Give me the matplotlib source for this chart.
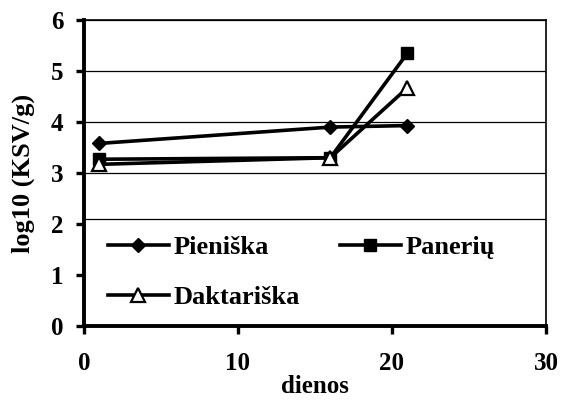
import matplotlib
matplotlib.use("Agg")
import matplotlib.pyplot as plt
from matplotlib.patches import Rectangle

days = [1, 16, 21]
pieniska = [3.58, 3.90, 3.93]
paneriu = [3.27, 3.30, 5.35]
daktariska = [3.17, 3.30, 4.67]
series_labels = ["Pieniška", "Panerių", "Daktariška"]
x_ticks = [0, 10, 20, 30]
y_ticks = [0, 1, 2, 3, 4, 5, 6]

plt.rcParams['font.family'] = ['Liberation Serif', 'DejaVu Serif']
plt.rcParams['font.weight'] = 'bold'

fig = plt.figure(figsize=(5.61, 4.01), dpi=100)
ax = fig.add_axes([84/561, 1-326/401, 462/561, 306/401])

ax.set_xlim(0, 30)
ax.set_ylim(0, 6)
ax.set_xticks(x_ticks)
ax.set_yticks(y_ticks)
ax.yaxis.grid(True, color='black', linewidth=0.9, zorder=0)
ax.set_axisbelow(True)

l1, = ax.plot(days, pieniska, color='black', lw=2.6, marker='D', ms=7.5,
              mfc='black', mec='black', label=series_labels[0], zorder=3)
l2, = ax.plot(days, paneriu, color='black', lw=2.6, marker='s', ms=8,
              mfc='black', mec='black', label=series_labels[1], zorder=3)
l3, = ax.plot(days, daktariska, color='black', lw=2.6, marker='^', ms=10,
              mfc='white', mec='black', mew=1.6, label=series_labels[2], zorder=4)

# legend box region
rect = Rectangle((0, 0), 1, 2.1/6, transform=ax.transAxes, facecolor='white',
                 edgecolor='black', linewidth=0.9, zorder=2)
ax.add_patch(rect)

# column-major fill: col1 = Pieniška, Daktariška ; col2 = Panerių
leg = ax.legend(handles=[l1, l3, l2], ncol=2, frameon=False,
                loc='upper left', bbox_to_anchor=((108-84)/462, (326-236)/306),
                prop={'family': 'Liberation Serif', 'weight': 'bold', 'size': 19},
                handlelength=2.3, handletextpad=0.2, labelspacing=1.0,
                columnspacing=1.5, borderpad=0, borderaxespad=0)
leg.set_zorder(5)

for s in ['left', 'bottom']:
    ax.spines[s].set_linewidth(2.8)
for s in ['top', 'right']:
    ax.spines[s].set_linewidth(1.2)
ax.tick_params(axis='both', direction='out', length=6, width=2.4, labelsize=18)
ax.tick_params(axis='y', pad=9)
ax.tick_params(axis='x', pad=13)
for lab in ax.get_xticklabels() + ax.get_yticklabels():
    lab.set_fontweight('bold')

ax.set_xlabel('dienos', fontsize=18, fontweight='bold', labelpad=0)
ax.set_ylabel('log10 (KSV/g)', fontsize=19, fontweight='bold', labelpad=11)

fig.savefig('out.png', dpi=100)
